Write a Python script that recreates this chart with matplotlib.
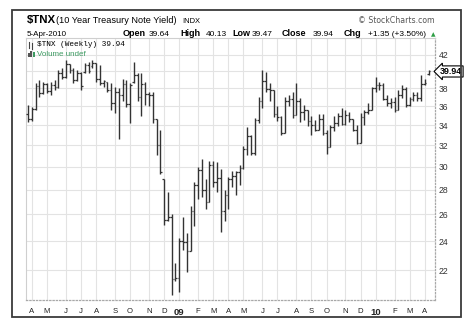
import matplotlib
matplotlib.use("Agg")
import matplotlib.pyplot as plt
import matplotlib.transforms as mtransforms
import pandas as pd
from matplotlib.lines import Line2D
from matplotlib.patches import Rectangle
from matplotlib.ticker import FixedLocator, NullLocator

plt.rcParams["font.family"] = ["Liberation Sans", "DejaVu Sans"]

# weekly bars of $TNX, week ending 28-Mar-2008 up to the partial week of 5-Apr-2010
dates = list(pd.date_range("2008-03-28", "2010-04-02", freq="W-FRI")) + [pd.Timestamp("2010-04-05")]

opens = [35.2, 34.6, 35.7, 38.2, 37.4, 38.5, 37.7, 38.4, 38.1, 39.8,
         39.3, 40.9, 40.1, 38.9, 39.8, 39.9, 40.7, 40.6, 41.0, 39.0,
         38.6, 38.7, 37.8, 36.3, 37.6, 37.2, 38.5, 36.2, 38.7, 39.5,
         37.0, 38.5, 37.3, 37.2, 34.6, 32.0, 28.9, 25.6, 25.8, 21.4,
         21.5, 24.0, 23.9, 23.3, 26.3, 28.4, 29.7, 28.0, 27.0, 30.2,
         28.7, 29.0, 26.3, 27.6, 28.9, 29.2, 29.5, 29.9, 31.6, 32.9,
         31.3, 34.5, 36.6, 38.8, 37.9, 37.8, 35.2, 34.8, 33.2, 36.5,
         36.8, 35.0, 36.5, 35.4, 35.6, 34.4, 34.0, 33.5, 34.6, 33.2,
         31.8, 33.8, 34.2, 34.9, 34.1, 35.0, 34.6, 33.5, 32.2, 34.8,
         35.4, 35.6, 38.0, 38.4, 38.3, 36.8, 36.3, 36.4, 35.6, 37.2,
         37.9, 36.1, 36.8, 37.2, 36.9, 38.5, 39.64]
highs = [36.1, 35.9, 38.6, 38.9, 38.7, 38.6, 38.7, 38.9, 40.1, 40.4,
         41.3, 40.9, 40.3, 40.1, 39.9, 41.0, 41.1, 41.3, 41.0, 40.7,
         38.9, 38.7, 38.6, 38.1, 38.0, 39.1, 38.9, 38.6, 41.1, 39.8,
         39.7, 38.7, 37.6, 37.5, 34.6, 33.5, 28.9, 27.8, 26.0, 22.5,
         24.2, 25.8, 24.6, 26.7, 28.7, 30.0, 30.7, 28.9, 30.5, 30.5,
         30.4, 29.8, 28.0, 29.1, 29.6, 29.6, 30.2, 31.9, 33.8, 33.0,
         34.7, 37.0, 40.1, 39.9, 38.6, 37.8, 36.0, 34.9, 37.0, 37.2,
         37.6, 38.6, 36.9, 36.1, 35.6, 34.9, 34.5, 35.1, 35.1, 33.5,
         34.0, 34.9, 35.3, 35.8, 35.6, 35.4, 34.6, 34.0, 35.3, 35.6,
         36.3, 38.1, 39.3, 38.7, 38.6, 37.2, 36.9, 37.0, 37.8, 38.35,
         38.1, 37.0, 37.6, 37.5, 39.5, 39.1, 40.13]
lows = [34.3, 34.4, 35.6, 37.0, 37.3, 37.4, 37.2, 37.8, 38.0, 39.1,
        39.2, 39.7, 38.6, 38.8, 37.8, 39.7, 39.7, 40.4, 38.7, 38.35,
        38.1, 37.5, 35.6, 35.3, 32.6, 36.5, 35.9, 34.2, 38.6, 36.5,
        34.9, 36.1, 36.0, 34.2, 31.1, 29.4, 25.2, 25.5, 20.4, 21.3,
        20.6, 23.4, 21.9, 23.3, 25.1, 27.2, 27.4, 26.4, 27.0, 28.2,
        27.8, 24.7, 25.5, 26.4, 28.2, 27.6, 28.4, 29.8, 31.1, 31.1,
        31.1, 34.2, 35.8, 37.6, 36.6, 34.8, 34.4, 33.0, 33.2, 36.0,
        34.7, 35.0, 34.3, 34.5, 33.9, 33.0, 33.4, 33.5, 33.0, 31.2,
        31.8, 33.4, 33.9, 34.0, 34.0, 34.3, 33.4, 32.1, 32.2, 34.0,
        35.1, 35.6, 37.5, 37.8, 36.7, 36.0, 35.8, 35.4, 35.6, 36.9,
        35.9, 36.0, 36.5, 36.5, 36.6, 38.35, 39.47]
closes = [34.6, 35.7, 38.2, 37.4, 38.5, 37.7, 38.4, 38.1, 39.8, 39.3,
          40.9, 40.1, 38.9, 39.8, 38.2, 40.7, 40.0, 41.0, 39.0, 38.6,
          38.8, 37.8, 36.3, 37.6, 37.2, 38.5, 36.2, 38.4, 39.5, 37.0,
          38.5, 37.3, 37.2, 34.6, 32.0, 29.5, 25.6, 25.8, 21.4, 21.5,
          24.0, 23.9, 23.3, 26.3, 28.4, 29.7, 28.0, 27.0, 30.2, 28.7,
          29.0, 26.3, 27.6, 28.9, 29.2, 29.5, 29.9, 31.6, 32.9, 31.3,
          34.5, 36.6, 38.8, 37.9, 37.8, 35.2, 34.8, 33.2, 36.5, 36.8,
          35.0, 36.5, 35.4, 35.6, 34.4, 34.0, 33.5, 34.6, 33.2, 31.8,
          33.8, 34.2, 34.9, 34.1, 35.0, 34.6, 33.5, 32.2, 34.8, 35.4,
          35.6, 38.0, 38.4, 38.3, 36.8, 36.3, 36.4, 35.6, 37.2, 37.9,
          36.1, 36.8, 37.2, 36.9, 38.5, 38.59, 39.94]

y_ticks = [22, 24, 26, 28, 30, 32, 34, 36, 38, 40, 42]
last_close = 39.94

W, H = 475, 326


def fpos(x, y):
    # pixel position (from top left) -> figure fraction
    return x / W, 1 - y / H


fig = plt.figure(figsize=(W / 100, H / 100), dpi=100)
ax = fig.add_axes([26 / W, 1 - 300 / H, (435 - 26) / W, (300 - 38) / H])

xs = list(range(len(dates)))
bar_col = "#333333"
ax.vlines(xs, lows, highs, color=bar_col, lw=1.0, zorder=3)
ax.hlines(opens, [x - 0.45 for x in xs], xs, color=bar_col, lw=0.9, zorder=3)
ax.hlines(closes, xs, [x + 0.45 for x in xs], color=bar_col, lw=0.9, zorder=3)

ax.set_yscale("log")
ax.set_ylim(20.11, 44.16)
ax.set_xlim(-0.55, 107.7)

# month grid at the first bar of each month
month_idx, month_lab = [], []
for i in range(1, len(dates)):
    if dates[i].month != dates[i - 1].month:
        month_idx.append(i)
        if dates[i].month == 1:
            month_lab.append(f"{dates[i].year % 100:02d}")
        else:
            month_lab.append(dates[i].strftime("%b")[0])

ax.xaxis.set_major_locator(FixedLocator(month_idx))
ax.set_xticklabels(month_lab)
for t, lab in zip(ax.get_xticklabels(), month_lab):
    if lab.isdigit():
        t.set_fontweight("bold")
        t.set_fontsize(6.8)
    else:
        t.set_fontsize(5.6)
    t.set_color("#222222")

# the 40 label sits under the last-close marker, so it is left blank
ax.yaxis.tick_right()
ax.yaxis.set_major_locator(FixedLocator(y_ticks))
ax.yaxis.set_minor_locator(NullLocator())
ax.set_yticklabels(["" if v == 40 else str(v) for v in y_ticks], fontsize=6.2, color="#333333")
ax.tick_params(axis="both", length=0)
ax.tick_params(axis="x", pad=6)
ax.tick_params(axis="y", pad=2.5)

ax.grid(True, color="#e3e3e3", lw=0.8, zorder=0)
for side in ("left", "top"):
    ax.spines[side].set_color("#cfcfcf")
    ax.spines[side].set_linewidth(0.8)
for side in ("right", "bottom"):
    ax.spines[side].set_color("#a8a8a8")
    ax.spines[side].set_linestyle(":")
    ax.spines[side].set_linewidth(0.9)

# last close marker on the price axis
tr = mtransforms.blended_transform_factory(ax.transAxes, ax.transData)
ax.text(1.012, last_close, f"{last_close:.2f}", transform=tr, ha="left", va="center",
        fontsize=6.4, fontweight="bold", color="black", clip_on=False, zorder=5,
        bbox=dict(boxstyle="larrow,pad=0.12", fc="white", ec="black", lw=0.8))

# legend inside the plot
fig.add_artist(Line2D([fpos(29, 0)[0]] * 2, [fpos(0, 42)[1], fpos(0, 48)[1]], color="#444444", lw=0.8))
fig.add_artist(Line2D([fpos(32, 0)[0]] * 2, [fpos(0, 43)[1], fpos(0, 49)[1]], color="#444444", lw=0.8))
fig.text(*fpos(37, 45), "$TNX (Weekly) 39.94", family="Liberation Mono", fontsize=5.6,
         va="center", ha="left", color="black")
for bx, bh, c in [(28, 4, "#555555"), (30.5, 6, "#555555"), (33, 5, "#3d9b62")]:
    fig.add_artist(Rectangle(fpos(bx, 57), 1.8 / W, bh / H, transform=fig.transFigure,
                             fc=c, ec="none"))
fig.text(*fpos(37, 54), "Volume undef", fontsize=5.8, va="center", ha="left", color="#3d9b62")

# header
fig.text(*fpos(27, 23), "$TNX", fontsize=8.2, fontweight="bold", va="baseline", ha="left")
fig.text(*fpos(56, 23), "(10 Year Treasury Note Yield)", fontsize=6.6, va="baseline", ha="left")
fig.text(*fpos(182, 23), "INDX", fontsize=5.4, va="baseline", ha="left")
fig.text(*fpos(435, 23), "\u00a9 StockCharts.com", fontsize=5.6, va="baseline", ha="right",
         color="#555555", family="DejaVu Sans")

fig.text(*fpos(27, 36), "5-Apr-2010", fontsize=5.8, va="baseline", ha="left")
header_items = [
    (123, "Open", True), (149, "39.64", False),
    (180, "High", True), (206, "40.13", False),
    (232, "Low", True), (252, "39.47", False),
    (282, "Close", True), (313, "39.94", False),
    (344, "Chg", True), (368, "+1.35 (+3.50%)", False),
]
for hx, s, bold in header_items:
    fig.text(*fpos(hx, 36), s, fontsize=6.5 if bold else 6.0,
             fontweight="bold" if bold else "normal", va="baseline", ha="left")
fig.text(*fpos(431, 36), "\u25b2", fontsize=4.2, va="baseline", ha="left", color="#2e9e45",
         family="DejaVu Sans")

# outer frame
fig.add_artist(Rectangle(fpos(12, 317), (461 - 12) / W, (317 - 10) / H, transform=fig.transFigure,
                         fill=False, ec="#3a3a3a", lw=1.3))

fig.savefig("out.png", dpi=100)
